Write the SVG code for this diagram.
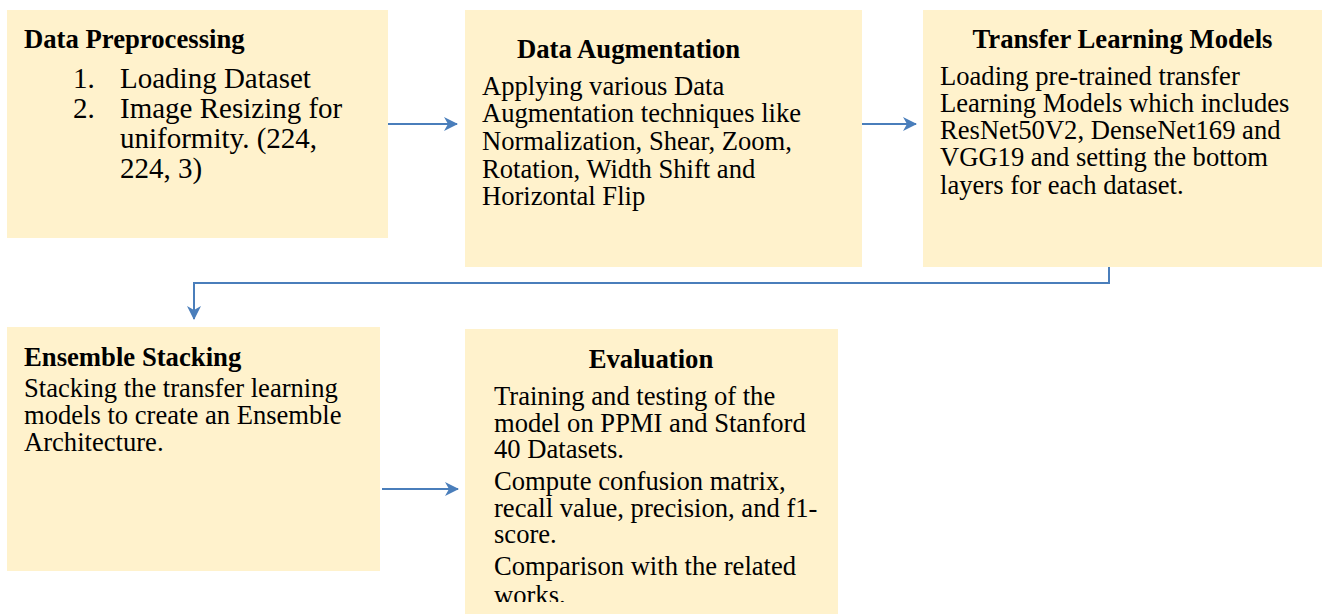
<svg xmlns="http://www.w3.org/2000/svg" width="1322" height="614" viewBox="0 0 1322 614">
<style>
.box{fill:#FFF2CC;}
.t{font-family:"Liberation Serif","Times New Roman",serif;font-size:26.7px;font-weight:bold;fill:#000;}
.b{font-family:"Liberation Serif","Times New Roman",serif;font-size:26.6px;fill:#000;}
.l{font-family:"Liberation Serif","Times New Roman",serif;font-size:29px;fill:#000;}
.c{fill:none;stroke:#4A7EBB;stroke-width:2;}
</style>
<defs>
<marker id="ah" viewBox="0 0 14 14" refX="13" refY="7" markerWidth="14" markerHeight="14" markerUnits="userSpaceOnUse" orient="auto">
<path d="M0,0 L14,7 L0,14 L4,7 Z" fill="#4A7EBB"/>
</marker>
<clipPath id="clip5"><rect x="465" y="329" width="373" height="273"/></clipPath>
</defs>
<g id="node-preprocessing">
<rect class="box" x="7" y="10" width="381" height="228"/>
<text class="t" x="24" y="48">Data Preprocessing</text>
<text class="l" x="73" y="88">1.</text>
<text class="l" x="120" y="88">Loading Dataset</text>
<text class="l" x="73" y="118">2.</text>
<text class="l" x="120" y="118">Image Resizing for</text>
<text class="l" x="120" y="148">uniformity. (224,</text>
<text class="l" x="120" y="178">224, 3)</text>
</g>
<g id="node-augmentation">
<rect class="box" x="465" y="10" width="397" height="257"/>
<text class="t" x="517" y="58">Data Augmentation</text>
<text class="b" x="482" y="95">Applying various Data</text>
<text class="b" x="482" y="122">Augmentation techniques like</text>
<text class="b" x="482" y="150">Normalization, Shear, Zoom,</text>
<text class="b" x="482" y="178">Rotation, Width Shift and</text>
<text class="b" x="482" y="205">Horizontal Flip</text>
</g>
<g id="node-transfer">
<rect class="box" x="923" y="10" width="399" height="257"/>
<text class="t" x="1122.5" y="48" text-anchor="middle">Transfer Learning Models</text>
<text class="b" x="940" y="85">Loading pre-trained transfer</text>
<text class="b" x="940" y="112">Learning Models which includes</text>
<text class="b" x="940" y="139">ResNet50V2, DenseNet169 and</text>
<text class="b" x="940" y="166">VGG19 and setting the bottom</text>
<text class="b" x="940" y="194">layers for each dataset.</text>
</g>
<g id="node-ensemble">
<rect class="box" x="7" y="327" width="373" height="244"/>
<text class="t" x="24" y="366">Ensemble Stacking</text>
<text class="b" x="24" y="397">Stacking the transfer learning</text>
<text class="b" x="24" y="424">models to create an Ensemble</text>
<text class="b" x="24" y="451">Architecture.</text>
</g>
<g id="node-evaluation">
<rect class="box" x="465" y="329" width="373" height="285"/>
<text class="t" x="651" y="368" text-anchor="middle">Evaluation</text>
<g clip-path="url(#clip5)">
<text class="b" x="494" y="405">Training and testing of the</text>
<text class="b" x="494" y="432">model on PPMI and Stanford</text>
<text class="b" x="494" y="458">40 Datasets.</text>
<text class="b" x="494" y="490">Compute confusion matrix,</text>
<text class="b" x="494" y="517">recall value, precision, and f1-</text>
<text class="b" x="494" y="543">score.</text>
<text class="b" x="494" y="575">Comparison with the related</text>
<text class="b" x="494" y="604">works.</text>
</g>
</g>
<g id="connectors">
<path class="c" d="M388,124 L457,124" marker-end="url(#ah)"/>
<path class="c" d="M862,124 L916,124" marker-end="url(#ah)"/>
<path class="c" d="M1109,267 L1109,283 L194,283 L194,319" marker-end="url(#ah)"/>
<path class="c" d="M382,489 L458,489" marker-end="url(#ah)"/>
</g>
</svg>
